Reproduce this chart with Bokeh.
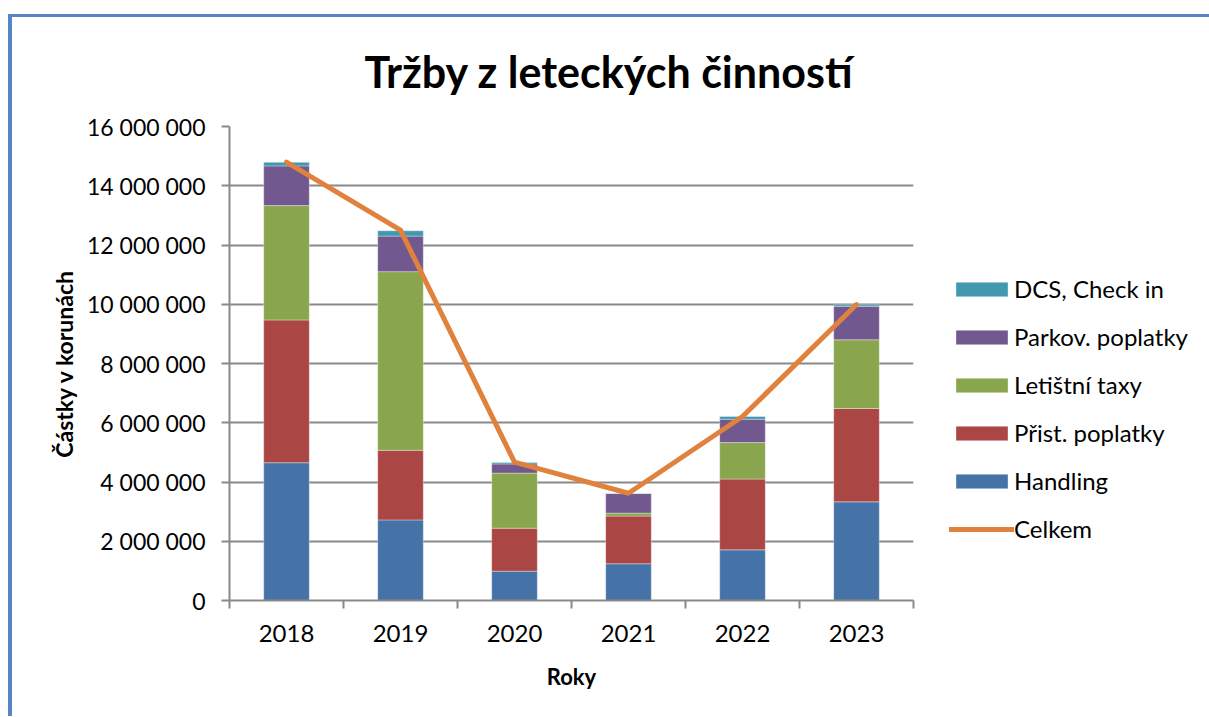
from bokeh.plotting import figure
from bokeh.models import (ColumnDataSource, Range1d, FixedTicker, Legend, LegendItem)
from bokeh.embed import file_html
from bokeh.resources import INLINE

# ---------------- data ----------------
years = ["2018", "2019", "2020", "2021", "2022", "2023"]
handling = [4650000, 2720000, 990000, 1240000, 1710000, 3330000]
prist_poplatky = [4820000, 2350000, 1450000, 1610000, 2390000, 3150000]
letistni_taxy = [3860000, 6030000, 1860000, 100000, 1230000, 2320000]
parkov_poplatky = [1340000, 1200000, 310000, 660000, 790000, 1130000]
dcs_check_in = [120000, 180000, 50000, 10000, 90000, 50000]
celkem = [14800000, 12500000, 4670000, 3620000, 6210000, 9990000]

series_names = ["Handling", "Přist. poplatky", "Letištní taxy", "Parkov. poplatky", "DCS, Check in"]
series_colors = ["#4572a7", "#aa4643", "#89a54e", "#71588f", "#4198af"]
line_name = "Celkem"
line_color = "#e0823d"

y_ticks = [0, 2000000, 4000000, 6000000, 8000000, 10000000, 12000000, 14000000, 16000000]
y_tick_labels = ["0", "2 000 000", "4 000 000", "6 000 000", "8 000 000",
                 "10 000 000", "12 000 000", "14 000 000", "16 000 000"]

title_text = "Tržby z leteckých činností"
y_title = "Částky v korunách"
x_title = "Roky"

FONT = "Lato"
GRID = "#898989"
BORDER = "#5585c5"

# ---------------- figure ----------------
n = len(years)
xs = [i + 0.5 for i in range(n)]
stack_keys = ["s0", "s1", "s2", "s3", "s4"]
src = ColumnDataSource(dict(x=xs, s0=handling, s1=prist_poplatky, s2=letistni_taxy,
                            s3=parkov_poplatky, s4=dcs_check_in, total=celkem))

p = figure(frame_width=684, frame_height=474, x_range=Range1d(0, n), y_range=Range1d(0, y_ticks[-1]),
           output_backend="svg", toolbar_location=None,
           min_border_left=217, min_border_top=109, min_border_right=250, min_border_bottom=116)
p.styles = {"margin-left": "8px", "margin-top": "14px",
            "border-left": f"4px solid {BORDER}", "border-top": f"3px solid {BORDER}"}
p.background_fill_color = "white"
p.border_fill_color = "white"
p.outline_line_color = None

p.title.text = title_text
p.title.text_font = FONT
p.title.text_font_size = "43px"
p.title.text_font_style = "bold"
p.title.text_color = "black"
p.title.align = "left"
p.title.offset = 135
p.title.vertical_align = "top"
p.title.standoff = 56

bars = p.vbar_stack(stack_keys, x="x", width=0.4, color=series_colors, source=src,
                    line_color="white", line_alpha=0.35, line_width=1)
ln = p.line("x", "total", source=src, line_color=line_color, line_width=5,
            line_join="round", line_cap="round")

# axes
xa = p.xaxis[0]
xa.ticker = FixedTicker(ticks=xs, minor_ticks=list(range(n + 1)))
xa.major_label_overrides = {x: y for x, y in zip(xs, years)}
xa.major_tick_out = 0
xa.major_tick_in = 0
xa.minor_tick_out = 8
xa.minor_tick_in = 0
xa.minor_tick_line_color = GRID
xa.minor_tick_line_width = 2
xa.axis_line_color = GRID
xa.axis_line_width = 2
xa.major_label_text_font = FONT
xa.major_label_text_font_size = "24px"
xa.major_label_text_color = "black"
xa.major_label_standoff = 16
xa.axis_label = x_title
xa.axis_label_text_font = FONT
xa.axis_label_text_font_size = "22px"
xa.axis_label_text_font_style = "bold"
xa.axis_label_text_color = "black"
xa.axis_label_standoff = 18

ya = p.yaxis[0]
ya.ticker = FixedTicker(ticks=y_ticks, minor_ticks=[])
ya.major_label_overrides = {t: l for t, l in zip(y_ticks, y_tick_labels)}
ya.major_tick_out = 8
ya.major_tick_in = 0
ya.major_tick_line_color = GRID
ya.major_tick_line_width = 2
ya.axis_line_color = GRID
ya.axis_line_width = 2
ya.major_label_text_font = FONT
ya.major_label_text_font_size = "23px"
ya.major_label_text_color = "black"
ya.major_label_standoff = 16
ya.axis_label = y_title
ya.axis_label_text_font = FONT
ya.axis_label_text_font_size = "23px"
ya.axis_label_text_font_style = "bold"
ya.axis_label_text_color = "black"
ya.axis_label_standoff = 6

p.xgrid.grid_line_color = None
p.ygrid.ticker = FixedTicker(ticks=y_ticks)
p.ygrid.grid_line_color = GRID
p.ygrid.grid_line_width = 2

# legend (reverse stacking order, line last)
items = [LegendItem(label=series_names[i], renderers=[bars[i]]) for i in reversed(range(len(bars)))]
items.append(LegendItem(label=line_name, renderers=[ln]))
leg = Legend(items=items, location="top_left", orientation="vertical",
             title=" ", title_text_font_size="10px", title_standoff=101,
             glyph_width=65, glyph_height=18, label_standoff=0, label_height=26,
             spacing=19, padding=0, margin=36, border_line_color=None,
             background_fill_alpha=0,
             label_text_font=FONT, label_text_font_size="24px", label_text_color="black")
p.add_layout(leg, "right")

open("out.html", "w").write(file_html(p, INLINE))
